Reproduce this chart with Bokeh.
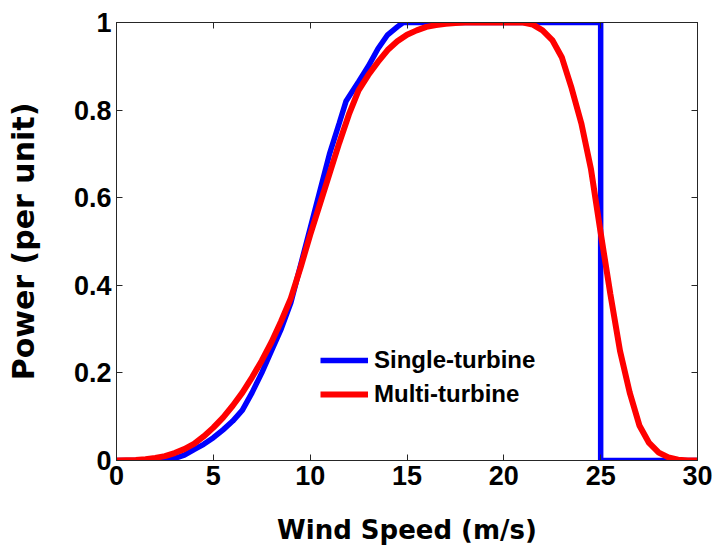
from bokeh.plotting import figure
from bokeh.models import Range1d, LinearAxis, FixedTicker
from bokeh.embed import file_html
from bokeh.resources import INLINE

# ---- data ----
wind_single = [0, 2.5, 3, 3.5, 4, 4.5, 5, 5.5, 6, 6.5, 7, 7.5, 8, 8.5, 9, 9.5, 10, 10.5,
               11, 11.5, 11.85, 12.5, 13, 13.5, 14, 14.5, 14.8, 25, 25, 30]
power_single = [0, 0, 0.005, 0.012, 0.025, 0.037, 0.052, 0.07, 0.09, 0.115, 0.155, 0.2,
                0.25, 0.3, 0.36, 0.445, 0.53, 0.615, 0.70, 0.77, 0.82, 0.865, 0.90, 0.94,
                0.972, 0.99, 1.0, 1.0, 0, 0]

wind_multi = [0, 1, 1.5, 2, 2.5, 3, 3.5, 4, 4.5, 5, 5.5, 6, 6.5, 7, 7.5, 8, 8.5, 9, 9.5,
              10, 10.5, 11, 11.5, 12, 12.5, 13, 13.5, 14, 14.5, 15, 15.5, 16, 16.5, 17,
              17.5, 18, 21, 21.5, 22, 22.5, 23, 23.5, 24, 24.5, 25, 25.5, 26, 26.5, 27,
              27.5, 28, 28.5, 29, 29.5, 30]
power_multi = [0, 0.001, 0.003, 0.006, 0.01, 0.017, 0.026, 0.038, 0.055, 0.075, 0.098,
               0.125, 0.155, 0.19, 0.228, 0.27, 0.318, 0.37, 0.44, 0.515, 0.585, 0.655,
               0.725, 0.79, 0.845, 0.88, 0.91, 0.937, 0.957, 0.972, 0.982, 0.99, 0.994,
               0.997, 0.999, 1.0, 1.0, 0.995, 0.982, 0.96, 0.92, 0.85, 0.77, 0.665, 0.52,
               0.38, 0.25, 0.155, 0.08, 0.04, 0.018, 0.007, 0.002, 0.0, 0]

x_ticks = [0, 5, 10, 15, 20, 25, 30]
y_ticks = [0, 0.2, 0.4, 0.6, 0.8, 1]
y_tick_labels = ["0", "0.2", "0.4", "0.6", "0.8", "1"]

FONT = "Liberation Sans"
LABEL_FONT = "DejaVu Sans"
AX_COLOR = "#262626"

p = figure(width=715, height=556, output_backend="svg", toolbar_location=None,
           x_range=Range1d(0, 30), y_range=Range1d(0, 1),
           min_border_left=116, min_border_right=18, min_border_top=22, min_border_bottom=96)
p.background_fill_color = "white"
p.border_fill_color = "white"
p.outline_line_color = AX_COLOR
p.xgrid.visible = False
p.ygrid.visible = False

p.line(wind_single, power_single, line_color="#0000ff", line_width=5.5, legend_label="Single-turbine")
p.line(wind_multi, power_multi, line_color="#ff0000", line_width=6, legend_label="Multi-turbine")


def style_axis(ax, ticks):
    ax.ticker = FixedTicker(ticks=ticks)
    ax.major_tick_in = 6
    ax.major_tick_out = 0
    ax.minor_tick_line_color = None
    ax.axis_line_color = AX_COLOR
    ax.major_tick_line_color = AX_COLOR
    ax.major_label_text_font = FONT
    ax.major_label_text_font_style = "bold"
    ax.major_label_text_font_size = "27px"
    ax.major_label_text_color = "black"
    ax.axis_label_text_font = LABEL_FONT
    ax.axis_label_text_font_style = "bold"
    ax.axis_label_text_color = "black"


xa = p.xaxis[0]
style_axis(xa, x_ticks)
xa.major_label_standoff = 5
xa.axis_label = "Wind Speed (m/s)"
xa.axis_label_text_font_size = "26px"
xa.axis_label_standoff = 27

ya = p.yaxis[0]
style_axis(ya, y_ticks)
ya.major_label_overrides = dict(zip(y_ticks, y_tick_labels))
ya.major_label_standoff = 5
ya.axis_label = "Power (per unit)"
ya.axis_label_text_font_size = "30px"
ya.axis_label_standoff = 30

top = LinearAxis()
style_axis(top, x_ticks)
top.major_label_text_font_size = "0px"
top.major_label_standoff = 0
top.major_label_text_color = None
p.add_layout(top, "above")

right = LinearAxis()
style_axis(right, y_ticks)
right.major_label_text_font_size = "0px"
right.major_label_standoff = 0
right.major_label_text_color = None
p.add_layout(right, "right")

lg = p.legend[0]
lg.location = (204, 49)
lg.border_line_color = None
lg.background_fill_alpha = 0
lg.padding = 0
lg.margin = 0
lg.spacing = 0
lg.glyph_width = 48
lg.glyph_height = 34
lg.label_height = 34
lg.label_standoff = 6
lg.label_text_font = FONT
lg.label_text_font_style = "bold"
lg.label_text_font_size = "24px"
lg.label_text_color = "black"

open("out.html", "w").write(file_html(p, INLINE))
